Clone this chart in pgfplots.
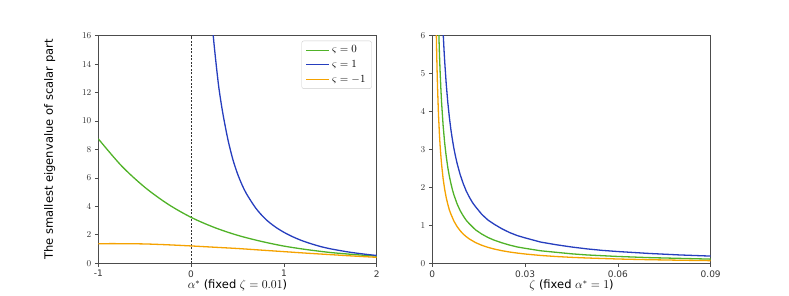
\documentclass[border=0pt]{standalone}
\usepackage[no-math]{fontspec}
\setmainfont{DejaVu Sans}
\usepackage{pgfplots}
\pgfplotsset{compat=1.18}
\definecolor{cgreen}{RGB}{80,178,40}
\definecolor{cblue}{RGB}{38,62,190}
\definecolor{corange}{RGB}{245,162,0}
\pgfplotsset{
  myaxis/.style={
    scale only axis, anchor=south west,
    width=278.4pt, height=227.6pt,
    axis line style={black!70, line width=0.8pt},
    tick style={black!70, line width=0.7pt},
    tick align=outside, major tick length=3.5pt,
    xtick pos=left, ytick pos=left,
    scaled x ticks=false, scaled y ticks=false,
    ticklabel style={font=\fontsize{9}{10}\selectfont, text=black!80},
    label style={font=\fontsize{11.5}{13}\selectfont},
    xlabel style={at={(axis description cs:0.5,-0.098)}, anchor=center},
    every axis plot/.append style={line width=1.3pt},
  }
}
\begin{document}
\begin{tikzpicture}
\path[use as bounding box] (0,0) rectangle (789pt,296pt);
\begin{axis}[myaxis, at={(98.3pt,32.7pt)},
  xmin=-1, xmax=2, ymin=0, ymax=16,
  xtick={-1,0,1,2}, xticklabels={-1,0,1,2},
  ytick={0,2,4,6,8,10,12,14,16},
  xlabel={$\alpha^{*}$ (fixed $\zeta = 0.01$)},
  ylabel={The smallest eigenvalue of scalar part},
  ylabel style={at={(axis description cs:-0.175,0.5)}, anchor=center, rotate=0},
  legend style={at={(0.982,0.978)}, anchor=north east, draw=black!20, rounded corners=2pt,
    font=\fontsize{10.5}{12}\selectfont, inner xsep=4pt, inner ysep=3pt, row sep=2pt},
  legend cell align=left,
  legend image code/.code={\draw[#1] (0pt,0pt) -- (23pt,0pt);},
]
\addplot[black!80, line width=0.5pt, dash pattern=on 2pt off 1.5pt, forget plot] coordinates {(0,0) (0,16)};
\addplot[cgreen, smooth] coordinates {
(-1,8.75) (-0.75,6.85) (-0.5,5.35) (-0.25,4.16) (0,3.23) (0.25,2.52) (0.5,1.97)
(0.75,1.55) (1,1.21) (1.25,0.96) (1.5,0.76) (1.75,0.62) (2,0.5)};
\addlegendentry{$\varsigma = 0$}
\addplot[cblue, smooth] coordinates {
(0.22,17.5) (0.24,15.9) (0.26,14.6) (0.28,13.4) (0.30,12.3) (0.33,11.0) (0.36,9.9)
(0.40,8.6) (0.45,7.3) (0.50,6.3) (0.55,5.5) (0.60,4.85) (0.70,3.85) (0.80,3.12)
(0.90,2.59) (1.00,2.18) (1.10,1.85) (1.20,1.58) (1.30,1.36) (1.40,1.17) (1.50,1.02)
(1.60,0.90) (1.70,0.79) (1.80,0.70) (1.90,0.62) (2.00,0.55)};
\addlegendentry{$\varsigma = 1$}
\addplot[corange, smooth] coordinates {
(-1,1.38) (-0.75,1.38) (-0.5,1.36) (-0.25,1.30) (0,1.22) (0.25,1.13) (0.5,1.04)
(0.75,0.93) (1,0.82) (1.25,0.71) (1.5,0.61) (1.75,0.51) (2,0.42)};
\addlegendentry{$\varsigma = -1$}
\end{axis}
\begin{axis}[myaxis, at={(432.3pt,32.7pt)},
  xmin=0, xmax=0.09, ymin=0, ymax=6,
  xtick={0,0.03,0.06,0.09}, xticklabels={0,0.03,0.06,0.09},
  ytick={0,1,2,3,4,5,6},
  xlabel={$\zeta$ (fixed $\alpha^{*} = 1$)},
]
\addplot[cgreen] coordinates {
(0.002,6.38) (0.0021,6.08) (0.0023,5.55) (0.0025,5.10) (0.0028,4.55) (0.003,4.24) (0.0035,3.63)
(0.004,3.17) (0.0045,2.82) (0.005,2.53) (0.0055,2.30) (0.006,2.11) (0.0065,1.94) (0.007,1.80)
(0.008,1.57) (0.009,1.39) (0.01,1.25) (0.011,1.13) (0.012,1.04) (0.014,0.88) (0.016,0.77)
(0.018,0.68) (0.02,0.61) (0.0225,0.54) (0.025,0.48) (0.0275,0.43) (0.03,0.395) (0.035,0.33)
(0.04,0.29) (0.045,0.25) (0.05,0.22) (0.055,0.20) (0.06,0.18) (0.07,0.15) (0.08,0.13) (0.09,0.11)};
\addplot[cblue] coordinates {
(0.0033,6.47) (0.0035,6.09) (0.0038,5.61) (0.004,5.33) (0.0045,4.73) (0.005,4.25) (0.0055,3.86)
(0.006,3.53) (0.0065,3.26) (0.007,3.02) (0.0075,2.82) (0.008,2.64) (0.009,2.34) (0.01,2.10)
(0.011,1.90) (0.012,1.74) (0.013,1.60) (0.014,1.49) (0.016,1.29) (0.018,1.14) (0.02,1.03)
(0.0225,0.91) (0.025,0.81) (0.0275,0.73) (0.03,0.67) (0.035,0.56) (0.04,0.49) (0.045,0.43)
(0.05,0.38) (0.055,0.34) (0.06,0.31) (0.07,0.26) (0.08,0.22) (0.09,0.19)};
\addplot[corange] coordinates {
(0.0012,6.55) (0.0013,6.04) (0.0014,5.61) (0.0015,5.24) (0.0017,4.62) (0.002,3.92) (0.0023,3.41)
(0.0025,3.13) (0.0028,2.80) (0.003,2.61) (0.0035,2.23) (0.004,1.95) (0.0045,1.73) (0.005,1.56)
(0.0055,1.41) (0.006,1.30) (0.007,1.11) (0.008,0.97) (0.009,0.86) (0.01,0.77) (0.011,0.70)
(0.012,0.64) (0.014,0.545) (0.016,0.475) (0.018,0.42) (0.02,0.376) (0.0225,0.332) (0.025,0.297)
(0.0275,0.269) (0.03,0.245) (0.035,0.207) (0.04,0.179) (0.045,0.157) (0.05,0.140) (0.06,0.113)
(0.07,0.095) (0.08,0.081) (0.09,0.070)};
\end{axis}
\end{tikzpicture}
\end{document}
